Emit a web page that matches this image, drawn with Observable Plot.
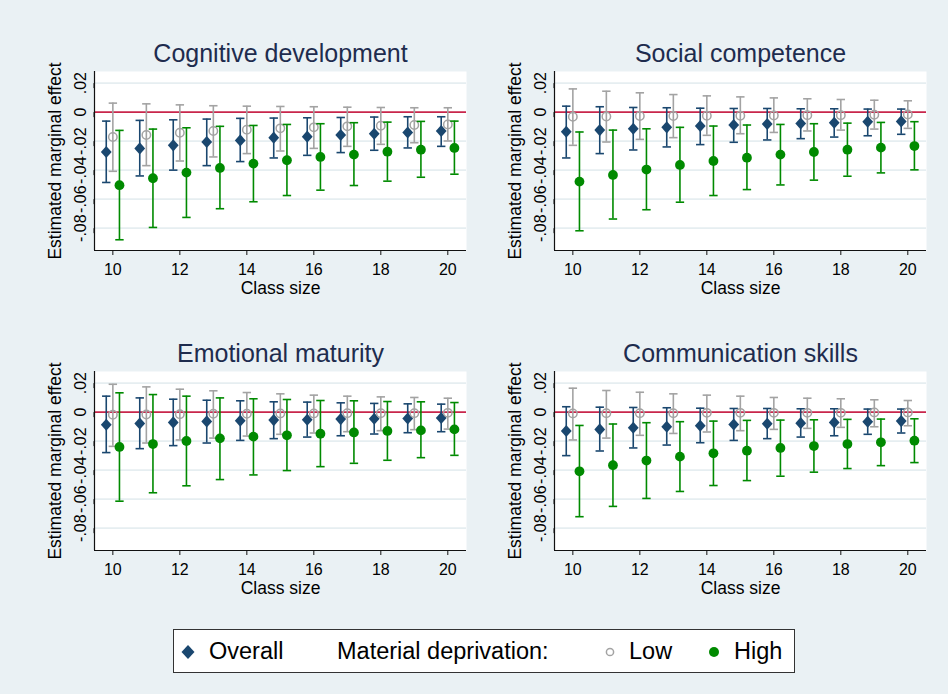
<!DOCTYPE html>
<html>
<head>
<meta charset="utf-8">
<script src="https://cdn.jsdelivr.net/npm/d3@7"></script>
<script src="https://cdn.jsdelivr.net/npm/@observablehq/plot@0.6"></script>
<style>
  html, body { margin: 0; padding: 0; }
  body { width: 948px; height: 694px; background: #eaf1f4; position: relative; overflow: hidden;
         font-family: "Liberation Sans", Arial, Helvetica, sans-serif; }
  .panel { position: absolute; }
  .panel svg { overflow: visible; }
  #legend { position: absolute; left: 173px; top: 629px; width: 620px; height: 42px;
            background: #fff; border: 1.5px solid #333; box-sizing: content-box; }
  .lg { position: absolute; font-size: 23.5px; color: #000; line-height: 1; white-space: nowrap; }
  .lsym { position: absolute; }
</style>
</head>
<body>
<div id="p0" class="panel" style="left:0px;top:30px"></div>
<div id="p1" class="panel" style="left:460px;top:30px"></div>
<div id="p2" class="panel" style="left:0px;top:330px"></div>
<div id="p3" class="panel" style="left:460px;top:330px"></div>
<div id="legend"></div>
<script>
// ---------- data ----------
const classSizes = [10, 11, 12, 13, 14, 15, 16, 17, 18, 19, 20];
const panelTitles = ["Cognitive development", "Social competence", "Emotional maturity", "Communication skills"];
const groupNames = ["Overall", "Low", "High"];
const xTicks = [10, 12, 14, 16, 18, 20];
const xTickLabels = ["10", "12", "14", "16", "18", "20"];
const yTicks = [-0.08, -0.06, -0.04, -0.02, 0, 0.02];
const yTickLabels = ["-.08", "-.06", "-.04", "-.02", "0", ".02"];
const xLabel = "Class size";
const yLabel = "Estimated marginal effect";
const legendLabels = ["Overall", "Material deprivation:", "Low", "High"];

// Cognitive development
const cogOverallEst = [-0.0275,-0.0250,-0.0229,-0.0206,-0.0195,-0.0176,-0.0169,-0.0158,-0.0149,-0.0140,-0.0130];
const cogOverallLo  = [-0.0485,-0.0440,-0.0400,-0.0369,-0.0341,-0.0316,-0.0298,-0.0279,-0.0263,-0.0247,-0.0236];
const cogOverallHi  = [-0.0062,-0.0057,-0.0053,-0.0048,-0.0043,-0.0041,-0.0039,-0.0037,-0.0034,-0.0032,-0.0032];
const cogLowEst  = [-0.0172,-0.0158,-0.0142,-0.0130,-0.0121,-0.0112,-0.0105,-0.0098,-0.0094,-0.0089,-0.0085];
const cogLowLo   = [-0.0408,-0.0369,-0.0337,-0.0309,-0.0286,-0.0268,-0.0250,-0.0236,-0.0222,-0.0211,-0.0199];
const cogLowHi   = [0.0062,0.0057,0.0050,0.0044,0.0041,0.0039,0.0037,0.0034,0.0032,0.0030,0.0030];
const cogHighEst = [-0.0504,-0.0456,-0.0417,-0.0385,-0.0355,-0.0332,-0.0309,-0.0293,-0.0273,-0.0259,-0.0247];
const cogHighLo  = [-0.0880,-0.0795,-0.0726,-0.0666,-0.0618,-0.0575,-0.0538,-0.0506,-0.0476,-0.0449,-0.0428];
const cogHighHi  = [-0.0126,-0.0117,-0.0108,-0.0098,-0.0092,-0.0085,-0.0080,-0.0073,-0.0069,-0.0064,-0.0062];

// Social competence
const socOverallEst = [-0.0135,-0.0124,-0.0115,-0.0105,-0.0096,-0.0089,-0.0082,-0.0078,-0.0073,-0.0066,-0.0064];
const socOverallLo  = [-0.0316,-0.0286,-0.0261,-0.0240,-0.0224,-0.0208,-0.0192,-0.0183,-0.0172,-0.0163,-0.0153];
const socOverallHi  = [0.0041,0.0037,0.0032,0.0030,0.0027,0.0025,0.0025,0.0023,0.0023,0.0021,0.0021];
const socLowEst  = [-0.0032,-0.0030,-0.0027,-0.0027,-0.0025,-0.0025,-0.0023,-0.0021,-0.0021,-0.0018,-0.0016];
const socLowLo   = [-0.0229,-0.0206,-0.0188,-0.0176,-0.0160,-0.0149,-0.0140,-0.0130,-0.0124,-0.0117,-0.0112];
const socLowHi   = [0.0160,0.0144,0.0133,0.0121,0.0112,0.0105,0.0098,0.0092,0.0087,0.0082,0.0078];
const socHighEst = [-0.0479,-0.0433,-0.0396,-0.0364,-0.0337,-0.0314,-0.0293,-0.0275,-0.0259,-0.0245,-0.0234];
const socHighLo  = [-0.0818,-0.0737,-0.0673,-0.0621,-0.0575,-0.0534,-0.0502,-0.0469,-0.0442,-0.0419,-0.0398];
const socHighHi  = [-0.0137,-0.0124,-0.0115,-0.0105,-0.0096,-0.0089,-0.0085,-0.0080,-0.0076,-0.0071,-0.0066];

// Emotional maturity
const emoOverallEst = [-0.0087,-0.0078,-0.0071,-0.0064,-0.0060,-0.0055,-0.0053,-0.0048,-0.0046,-0.0044,-0.0041];
const emoOverallLo  = [-0.0279,-0.0252,-0.0231,-0.0213,-0.0195,-0.0183,-0.0172,-0.0163,-0.0151,-0.0142,-0.0135];
const emoOverallHi  = [0.0110,0.0098,0.0089,0.0082,0.0078,0.0071,0.0069,0.0064,0.0060,0.0057,0.0055];
const emoLowEst  = [-0.0018,-0.0016,-0.0014,-0.0011,-0.0011,-0.0009,-0.0009,-0.0007,-0.0007,-0.0007,-0.0005];
const emoLowLo   = [-0.0236,-0.0213,-0.0192,-0.0179,-0.0165,-0.0153,-0.0144,-0.0135,-0.0128,-0.0121,-0.0117];
const emoLowHi   = [0.0192,0.0174,0.0158,0.0147,0.0135,0.0126,0.0117,0.0110,0.0105,0.0101,0.0096];
const emoHighEst = [-0.0240,-0.0220,-0.0199,-0.0181,-0.0169,-0.0160,-0.0149,-0.0140,-0.0130,-0.0126,-0.0119];
const emoHighLo  = [-0.0614,-0.0556,-0.0508,-0.0465,-0.0433,-0.0403,-0.0376,-0.0353,-0.0332,-0.0314,-0.0298];
const emoHighHi  = [0.0133,0.0121,0.0110,0.0098,0.0092,0.0087,0.0080,0.0078,0.0073,0.0071,0.0066];

// Communication skills
const comOverallEst = [-0.0130,-0.0119,-0.0108,-0.0101,-0.0094,-0.0085,-0.0080,-0.0076,-0.0071,-0.0066,-0.0062];
const comOverallLo  = [-0.0300,-0.0268,-0.0247,-0.0227,-0.0211,-0.0195,-0.0183,-0.0172,-0.0163,-0.0153,-0.0144];
const comOverallHi  = [0.0037,0.0034,0.0032,0.0030,0.0027,0.0025,0.0025,0.0023,0.0023,0.0021,0.0021];
const comLowEst  = [-0.0009,-0.0007,-0.0007,-0.0007,-0.0005,-0.0005,-0.0005,-0.0005,-0.0005,-0.0002,-0.0002];
const comLowLo   = [-0.0192,-0.0179,-0.0160,-0.0147,-0.0137,-0.0128,-0.0119,-0.0112,-0.0105,-0.0101,-0.0094];
const comLowHi   = [0.0165,0.0149,0.0137,0.0126,0.0117,0.0110,0.0101,0.0096,0.0092,0.0085,0.0080];
const comHighEst = [-0.0408,-0.0366,-0.0334,-0.0307,-0.0284,-0.0266,-0.0247,-0.0234,-0.0220,-0.0208,-0.0197];
const comHighLo  = [-0.0721,-0.0650,-0.0595,-0.0547,-0.0506,-0.0472,-0.0442,-0.0414,-0.0389,-0.0369,-0.0348];
const comHighHi  = [-0.0092,-0.0082,-0.0073,-0.0066,-0.0062,-0.0057,-0.0055,-0.0053,-0.0050,-0.0048,-0.0046];

// ---------- styling ----------
const FONT = "'Liberation Sans', Arial, Helvetica, sans-serif";
const C_NAVY = "#1a476f", C_GRAY = "#a3a3a3", C_GREEN = "#008a00", C_RED = "#c8264b";
const GRID = "#e6eef1", TITLE = "#1e2c4e";
const xDomain = [9.452, 20.558];
const yDomain = [-0.0954, 0.028];

const series = [
  [[cogOverallEst,cogOverallLo,cogOverallHi],[cogLowEst,cogLowLo,cogLowHi],[cogHighEst,cogHighLo,cogHighHi]],
  [[socOverallEst,socOverallLo,socOverallHi],[socLowEst,socLowLo,socLowHi],[socHighEst,socHighLo,socHighHi]],
  [[emoOverallEst,emoOverallLo,emoOverallHi],[emoLowEst,emoLowLo,emoLowHi],[emoHighEst,emoHighLo,emoHighHi]],
  [[comOverallEst,comOverallLo,comOverallHi],[comLowEst,comLowLo,comLowHi],[comHighEst,comHighLo,comHighHi]]
];

const style = {
  Overall: {color: C_NAVY, dx: -6.6},
  Low:     {color: C_GRAY, dx: 0},
  High:    {color: C_GREEN, dx: 6.6}
};

const capSymbol = { draw(ctx, size) { const r = Math.sqrt(size / Math.PI); ctx.moveTo(-r, 0); ctx.lineTo(r, 0); } };
const diamondSymbol = { draw(ctx, size) { const r = Math.sqrt(size / Math.PI);
  ctx.moveTo(0, -1.12 * r); ctx.lineTo(r, 0); ctx.lineTo(0, 1.12 * r); ctx.lineTo(-r, 0); ctx.closePath(); } };

function groupMarks(rows, g) {
  const s = style[g];
  const data = rows.filter(d => d.group === g);
  const marks = [
    Plot.ruleX(data, {x: "size", y1: "lo", y2: "hi", stroke: s.color, strokeWidth: 1.6, dx: s.dx}),
    Plot.dot(data, {x: "size", y: "lo", symbol: capSymbol, r: 4.2, stroke: s.color, strokeWidth: 1.6, fill: "none", dx: s.dx}),
    Plot.dot(data, {x: "size", y: "hi", symbol: capSymbol, r: 4.2, stroke: s.color, strokeWidth: 1.6, fill: "none", dx: s.dx})
  ];
  if (g === "Overall") marks.push(Plot.dot(data, {x: "size", y: "est", symbol: diamondSymbol, r: 5.4, fill: s.color, stroke: "none", dx: s.dx}));
  if (g === "Low") marks.push(Plot.dot(data, {x: "size", y: "est", r: 4.2, fill: "none", stroke: s.color, strokeWidth: 1.5, dx: s.dx}));
  if (g === "High") marks.push(Plot.dot(data, {x: "size", y: "est", r: 4.9, fill: s.color, stroke: "none", dx: s.dx}));
  return marks;
}

series.forEach((panel, pi) => {
  const rows = [];
  panel.forEach((arrs, gi) => {
    classSizes.forEach((sz, i) => rows.push({group: groupNames[gi], size: sz, est: arrs[0][i], lo: arrs[1][i], hi: arrs[2][i]}));
  });
  const chart = Plot.plot({
    width: 474, height: 275,
    marginLeft: 94, marginRight: 8, marginTop: 41, marginBottom: 55,
    x: {domain: xDomain},
    y: {domain: yDomain},
    style: {background: "transparent", fontFamily: FONT, fontSize: "16px", color: "#000", overflow: "visible"},
    marks: [
      Plot.frame({fill: "#fff", stroke: "none"}),
      Plot.gridY(yTicks.filter(d => d !== 0), {stroke: GRID, strokeOpacity: 1, strokeWidth: 1.6}),
      Plot.ruleY([0], {stroke: C_RED, strokeWidth: 1.6}),
      ...groupMarks(rows, "Overall"),
      ...groupMarks(rows, "Low"),
      ...groupMarks(rows, "High"),
      Plot.ruleX([xDomain[0]], {stroke: "#111", strokeWidth: 1.2}),
      Plot.ruleY([yDomain[0]], {stroke: "#111", strokeWidth: 1.2}),
      Plot.axisX({ticks: xTicks, tickFormat: (d, i) => xTickLabels[i], tickSize: 5, tickPadding: 8, fontSize: 16, label: null, stroke: "#111"}),
      Plot.axisY({ticks: yTicks, tickFormat: (d, i) => yTickLabels[i], tickSize: 5, tickPadding: 4, fontSize: 16, label: null,
                  rotate: -90, textAnchor: "middle", lineAnchor: "bottom", stroke: "#111"}),
      Plot.text([panelTitles[pi]], {frameAnchor: "top", dy: -18, fontSize: 25, fill: TITLE, textAnchor: "middle", lineAnchor: "middle"}),
      Plot.text([yLabel], {frameAnchor: "left", dx: -39, rotate: -90, fontSize: 17.5, fill: "#000", textAnchor: "middle", lineAnchor: "middle"}),
      Plot.text([xLabel], {frameAnchor: "bottom", dy: 38, fontSize: 17.5, fill: "#000", textAnchor: "middle", lineAnchor: "middle"})
    ]
  });
  document.getElementById("p" + pi).appendChild(chart);
});

// ---------- legend ----------
const legend = document.getElementById("legend");
const ox = 173, oy = 629;
function addText(txt, left, cy) {
  const el = document.createElement("div");
  el.className = "lg";
  el.textContent = txt;
  el.style.left = (left - ox) + "px";
  el.style.top = (cy - oy - 12) + "px";
  legend.appendChild(el);
}
function addSym(svgInner, cx, cy) {
  const el = document.createElement("div");
  el.className = "lsym";
  el.style.left = (cx - ox - 10) + "px";
  el.style.top = (cy - oy - 10) + "px";
  el.innerHTML = `<svg width="20" height="20" viewBox="-10 -10 20 20">${svgInner}</svg>`;
  legend.appendChild(el);
}
const lcy = 651;
addSym(`<path d="M0,-7L6.5,0L0,7L-6.5,0Z" fill="${C_NAVY}"/>`, 187, lcy);
addText(legendLabels[0], 208, lcy);
addText(legendLabels[1], 336, lcy);
addSym(`<circle r="3.6" fill="none" stroke="${C_GRAY}" stroke-width="1.5"/>`, 609, lcy);
addText(legendLabels[2], 628, lcy);
addSym(`<circle r="5" fill="${C_GREEN}"/>`, 713, lcy);
addText(legendLabels[3], 733, lcy);
</script>
</body>
</html>
